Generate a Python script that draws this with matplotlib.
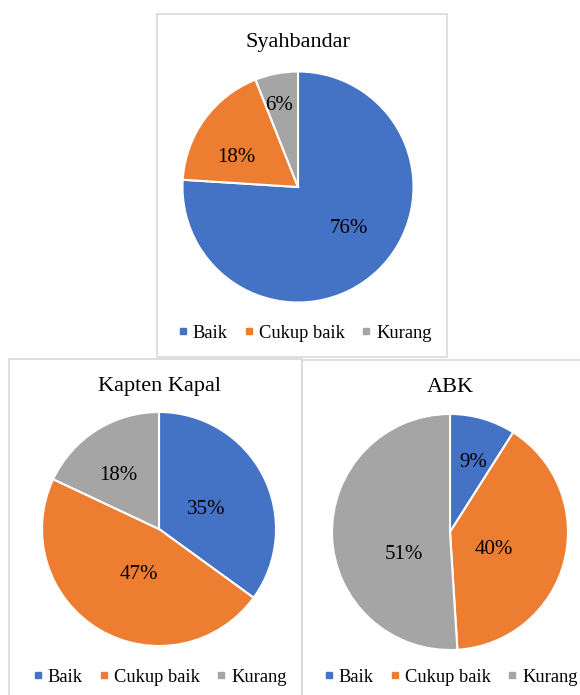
import matplotlib
matplotlib.use("Agg")
import matplotlib.pyplot as plt
from matplotlib.lines import Line2D
from matplotlib.patches import Rectangle
import numpy as np

plt.rcParams['font.family'] = ['Liberation Serif', 'DejaVu Serif']

categories = ["Baik", "Cukup baik", "Kurang"]
colors = ["#4472C4", "#ED7D31", "#A5A5A5"]

syahbandar = [76, 18, 6]
kapten_kapal = [35, 47, 18]
abk = [9, 40, 51]

W, H = 580, 695
fig = plt.figure(figsize=(W / 100, H / 100), dpi=100)


def box(x0, y0, x1, y1):
    # pixel coords, origin top-left
    fig.add_artist(Rectangle((x0 / W, 1 - y1 / H), (x1 - x0) / W, (y1 - y0) / H,
                             transform=fig.transFigure, fill=False,
                             edgecolor="#D9D9D9", linewidth=1.2))


def draw_pie(values, title, cx, cy, r, title_y, legend_x, legend_y, dists, shifts):
    ax = fig.add_axes([(cx - r) / W, 1 - (cy + r) / H, 2 * r / W, 2 * r / H])
    wedges, _ = ax.pie(values, colors=colors, startangle=90, counterclock=False,
                       wedgeprops=dict(edgecolor="white", linewidth=1.5))
    # label placement: mid-angle of the wedge, nudged like Excel's best fit
    for w, v, d, s in zip(wedges, values, dists, shifts):
        a = np.deg2rad((w.theta1 + w.theta2) / 2 + s)
        ax.text(d * np.cos(a), d * np.sin(a) - 0.02, f"{v}%", ha="center",
                va="center", fontsize=15, color="black")
    ax.set_xlim(-1, 1)
    ax.set_ylim(-1, 1)
    fig.text(cx / W, 1 - title_y / H, title, ha="center", va="center",
             fontsize=16, color="black")
    handles = [Line2D([], [], marker="s", linestyle="", color=c, markersize=5)
               for c in colors]
    fig.legend(handles, categories, loc="center",
               bbox_to_anchor=(legend_x / W, 1 - legend_y / H), ncol=3,
               frameon=False, fontsize=13.3, handlelength=0.5,
               handletextpad=0.3, columnspacing=0.9, borderpad=0)


box(157, 14, 447, 357)
box(9, 359, 302, 705)
box(302, 360, 590, 705)

draw_pie(syahbandar, "Syahbandar", 298, 187, 115.5, 43, 305, 333,
         [0.556, 0.604, 0.745], [9.4, 8.7, 1.9])
draw_pie(kapten_kapal, "Kapten Kapal", 159, 529, 117, 386, 160, 677,
         [0.444, 0.405, 0.59], [-1.9, 5.5, 3.8])
draw_pie(abk, "ABK", 450, 532, 118, 387, 451, 677,
         [0.64, 0.394, 0.425], [-1.5, -4.4, 21.7])

fig.savefig("out.png", dpi=100)
